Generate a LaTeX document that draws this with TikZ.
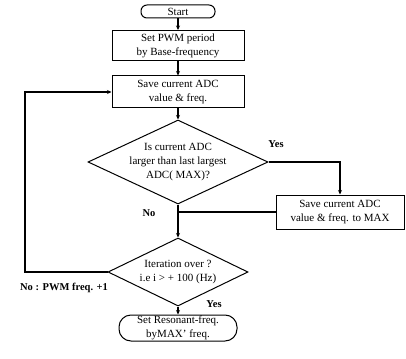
\documentclass[tikz,border=0pt]{standalone}
\usepackage{fontspec}
\setmainfont{Liberation Serif}
\usetikzlibrary{shapes.geometric,arrows.meta}
\begin{document}
\begin{tikzpicture}[x=1pt,y=-1pt,
  every node/.style={font=\fontsize{11}{14}\selectfont, align=center, inner sep=0pt},
  box/.style={draw, line width=1pt, rectangle},
  term/.style={draw, line width=1pt, rectangle, rounded corners=6pt},
  dec/.style={draw, line width=1pt, diamond, aspect=1},
  conn/.style={line width=1.4pt},
  arr/.style={conn, -{Stealth[length=4.5pt,width=4pt]}},
  lbl/.style={font=\bfseries\fontsize{10.5}{12}\selectfont}
]
\useasboundingbox (0,0) rectangle (406,358);
\node[term, minimum width=74pt, minimum height=13pt] (start) at (178,11.5) {Start};
\node[box, minimum width=132pt, minimum height=30pt] (set) at (178,45.5) {Set PWM period\\by Base-frequency};
\node[box, minimum width=132pt, minimum height=32pt] (save) at (178,92) {Save current ADC\\value \& freq.};
\node[dec, minimum width=180pt, minimum height=84pt] (d1) at (178,162) {};
\node (d1t) at (d1.center) {Is current ADC\\larger than last largest\\ADC( MAX)?};
\node[box, minimum width=128pt, minimum height=34pt] (max) at (340,212) {Save current ADC\\value \& freq. to MAX};
\node[dec, minimum width=140pt, minimum height=68pt] (d2) at (178,272) {};
\node (d2t) at (d2.center) {Iteration over ?\\i.e i > + 100 (Hz)};
\node[term, rounded corners=12pt, minimum width=118pt, minimum height=26pt] (end) at (178,328) {Set Resonant-freq.\\byMAX' freq.};
\coordinate (lt) at (25,92);
\coordinate (lb) at (25,272);

\draw[arr] (start) -- (set);
\draw[arr] (set) -- (save);
\draw[arr] (save) -- (d1.north);
\draw[arr] (d1.east) -| (max.north);
\draw[arr] (d1.south) -- (d2.north);
\draw[conn] (max.west) -- (d1.south |- max.west);
\draw[arr] (d2.west) -- (lb) -- (lt) -- (save.west);
\draw[arr] (d2.south) -- (end.north);

\node[lbl] (yes1) at (276,144) {Yes};
\node[lbl] (no1) at (149,213) {No};
\node[lbl] (yes2) at (214,304) {Yes};
\node[lbl] (no2) at (64,288) {No : PWM freq. +1};
\end{tikzpicture}
\end{document}
